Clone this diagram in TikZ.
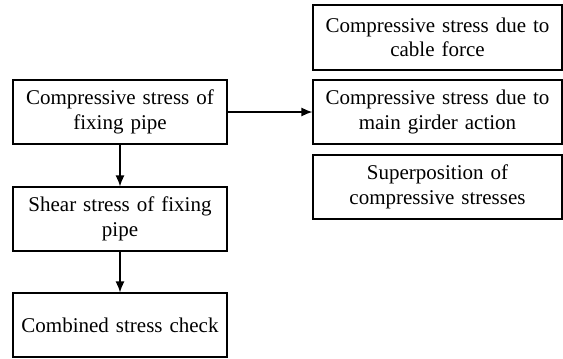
\documentclass[tikz,border=0pt]{standalone}
\usepackage{fontspec}
\setmainfont{Liberation Serif}
\usetikzlibrary{arrows.meta}
\begin{document}
\begin{tikzpicture}[x=1pt,y=-1pt,
  box/.style={draw, line width=1.2pt, minimum height=64pt, inner sep=0pt, align=center,
    font=\fontsize{21}{24.5}\selectfont},
  lbox/.style={box, minimum width=214pt, text width=210pt},
  rbox/.style={box, minimum width=249pt, text width=245pt},
  arr/.style={line width=1.3pt, -{Latex[length=11pt,width=9pt]}}]
\useasboundingbox (0,0) rectangle (563,359);
\node[lbox] (a) at (120,112) {Compressive stress of\\fixing pipe};
\node[lbox] (b) at (120,219) {Shear stress of fixing\\pipe};
\node[lbox] (c) at (120,325) {Combined stress check};
\node[rbox, minimum height=65pt] (r1) at (437.5,37.5) {Compressive stress due to\\cable force};
\node[rbox] (r2) at (437.5,112) {Compressive stress due to\\main girder action};
\node[rbox] (r3) at (437.5,187) {Superposition of\\compressive stresses};
\draw[arr] (a) -- (b);
\draw[arr] (b) -- (c);
\draw[arr] (a) -- (r2);
\end{tikzpicture}
\end{document}
